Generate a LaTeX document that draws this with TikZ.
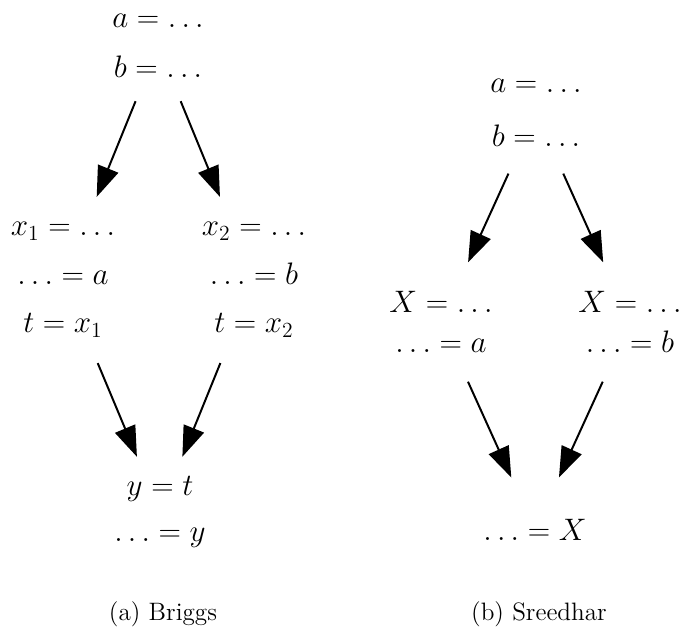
\documentclass[tikz,border=0pt]{standalone}
\usepackage{amsmath, amssymb}
\usepackage{tikz}
\usetikzlibrary{arrows.meta}

\begin{document}
\begin{tikzpicture}[x=0.556pt, y=-0.556pt, >={Triangle[length=17pt, width=12pt]},
  blocco/.style={font=\fontsize{16.5}{20}\selectfont, align=center, inner sep=0pt},
  didascalia/.style={font=\fontsize{14}{17}\selectfont, inner sep=0pt},
  arco/.style={->, line width=1.1pt}]

\useasboundingbox (0,0) rectangle (680,630);

% (a) Briggs
\node[blocco, minimum height=61pt] (A0) at (158,46) {$a = \ldots$\\[7.5pt]$b = \ldots$}; % blocco iniziale
\node[blocco, minimum height=92pt] (A1) at (63,280) {$x_1 = \ldots$\\[7pt]$\ldots = a$\\[7pt]$t = x_1$}; % ramo sinistro
\node[blocco, minimum height=92pt] (A2) at (254,280) {$x_2 = \ldots$\\[7pt]$\ldots = b$\\[7pt]$t = x_2$}; % ramo destro
\node[blocco, minimum height=61pt] (A3) at (160,512) {$y = t$\\[6pt]$\ldots = y$}; % blocco finale

\draw[arco] (A0) -- (A1);
\draw[arco] (A0) -- (A2);
\draw[arco] (A1) -- (A3);
\draw[arco] (A2) -- (A3);

\node[didascalia] (capA) at (163,614) {(a) Briggs};

% (b) Sreedhar
\node[blocco, minimum height=67pt] (B0) at (536,113) {$a = \ldots$\\[10pt]$b = \ldots$}; % blocco iniziale
\node[blocco, minimum height=66pt] (B1) at (441,322) {$X = \ldots$\\[2.5pt]$\ldots = a$}; % ramo sinistro
\node[blocco, minimum height=66pt] (B2) at (630,322) {$X = \ldots$\\[2.5pt]$\ldots = b$}; % ramo destro
\node[blocco, minimum height=58pt] (B3) at (535,530) {$\ldots = X$}; % blocco finale

\draw[arco] (B0) -- (B1);
\draw[arco] (B0) -- (B2);
\draw[arco] (B1) -- (B3);
\draw[arco] (B2) -- (B3);

\node[didascalia] (capB) at (539,614) {(b) Sreedhar};

\end{tikzpicture}
\end{document}
